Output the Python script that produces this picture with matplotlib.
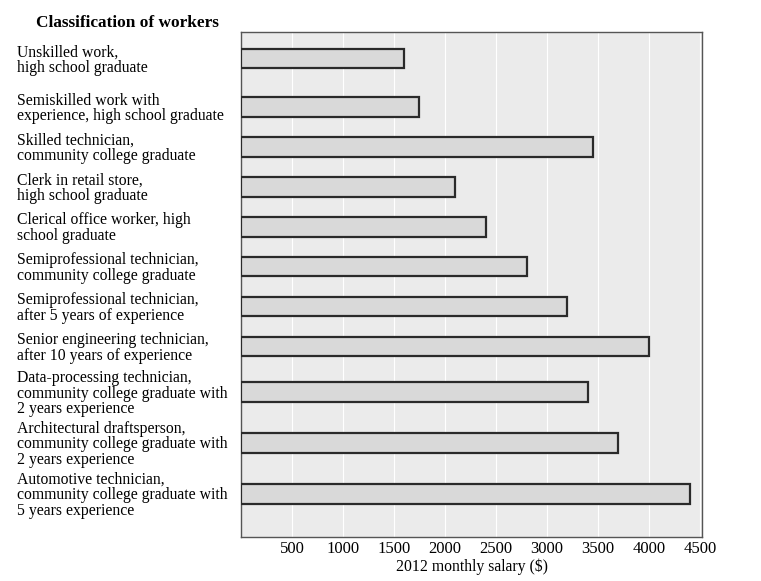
"""
Monthly salary by classification of workers (horizontal bar chart)
"""

import numpy as np
import matplotlib
matplotlib.use('Agg')
from matplotlib import pyplot as plt

plt.rcParams['font.family'] = ['Liberation Serif', 'DejaVu Serif']

workers = [
    'Unskilled work,\nhigh school graduate',
    'Semiskilled work with\nexperience, high school graduate',
    'Skilled technician,\ncommunity college graduate',
    'Clerk in retail store,\nhigh school graduate',
    'Clerical office worker, high\nschool graduate',
    'Semiprofessional technician,\ncommunity college graduate',
    'Semiprofessional technician,\nafter 5 years of experience',
    'Senior engineering technician,\nafter 10 years of experience',
    'Data-processing technician,\ncommunity college graduate with\n2 years experience',
    'Architectural draftsperson,\ncommunity college graduate with\n2 years experience',
    'Automotive technician,\ncommunity college graduate with\n5 years experience',
]
salary = [1600, 1750, 3450, 2100, 2400, 2800, 3200, 4000, 3400, 3700, 4400]
xticks = [500, 1000, 1500, 2000, 2500, 3000, 3500, 4000, 4500]

# row layout: each row is as tall as its label (2 or 3 lines), in pixel-ish units
nlines = np.array([lab.count('\n') + 1 for lab in workers])
row_h = np.where(nlines == 3, 51.0, 40.0)
steps = (row_h[:-1] + row_h[1:]) / 2
steps[0] += 8.5   # a bit more room under the first row, as in the original
ypos = np.concatenate([[0.0], np.cumsum(steps)])

fig = plt.figure(figsize=(7.61, 5.81), dpi=100)
ax = fig.add_axes([0.3167, 0.0762, 0.6058, 0.8692])
ax.set_facecolor('#ebebeb')

ax.barh(ypos, salary, height=19.5, color='#d9d9d9', edgecolor='#2a2a2a',
        linewidth=1.6, zorder=3)

ax.set_xlim(0, 4520)
ax.set_ylim(ypos[-1] + 43, ypos[0] - 27)
ax.set_xticks(xticks)
ax.set_xticklabels([str(t) for t in xticks], fontsize=12)
ax.tick_params(axis='x', length=0, pad=3)
ax.set_yticks([])
ax.grid(axis='x', color='white', linewidth=0.8, zorder=1)
for s in ax.spines.values():
    s.set_color('#555555')
    s.set_linewidth(1.0)

ax.set_xlabel('2012 monthly salary ($)', fontsize=11.3, labelpad=1)

# category labels, left aligned at the figure edge, centred on each bar
trans = ax.get_yaxis_transform()
xlab = (17 - 241) / 461
for y, lab in zip(ypos, workers):
    ax.text(xlab, y + 1.5, lab, transform=trans, ha='left', va='center',
            fontsize=11.3, linespacing=0.98)

fig.text(0.168, 0.961, 'Classification of workers', ha='center', va='center',
         fontsize=12.4, fontweight='bold')

fig.savefig('out.png', dpi=100)
